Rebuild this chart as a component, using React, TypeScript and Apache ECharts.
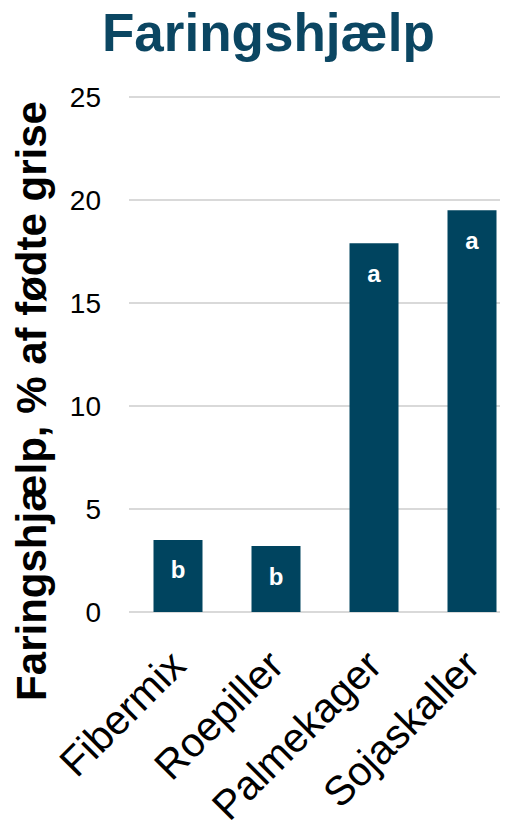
import React, { useEffect, useRef } from "react";
import * as echarts from "echarts";

const categories = ["Fibermix", "Roepiller", "Palmekager", "Sojaskaller"];
const values = [3.5, 3.2, 17.9, 19.5];
const letters = ["b", "b", "a", "a"];
const yTicks = { min: 0, max: 25, interval: 5 };

const FONT = "'Liberation Sans', Arial, sans-serif";
const BAR = "#00445f";

export default function App() {
  const ref = useRef<HTMLDivElement>(null);
  useEffect(() => {
    const chart = echarts.init(ref.current!, null, { renderer: "svg" });
    chart.setOption({
      animation: false,
      textStyle: { fontFamily: FONT },
      title: {
        text: "Faringshjælp",
        left: 97,
        top: 1,
        textStyle: { fontFamily: FONT, fontSize: 53, fontWeight: "bold", color: "#0b4662" },
      },
      grid: { left: 129, width: 392, top: 97, height: 515, outerBoundsMode: "none", containLabel: false },
      xAxis: {
        type: "category",
        data: categories,
        axisTick: { show: false },
        axisLine: { show: false },
        axisLabel: { rotate: 45, fontSize: 41, color: "#000", margin: 46, fontFamily: FONT },
      },
      yAxis: {
        type: "value",
        min: yTicks.min,
        max: yTicks.max,
        interval: yTicks.interval,
        axisLabel: { fontSize: 28, color: "#000", margin: 28, fontFamily: FONT },
        splitLine: { lineStyle: { color: "#d9d9d9", width: 2 } },
      },
      graphic: [
        {
          type: "text",
          x: 31,
          y: 401,
          rotation: Math.PI / 2,
          style: {
            text: "Faringshjælp, % af fødte grise",
            fontFamily: FONT,
            fontSize: 42,
            fontWeight: "bold",
            fill: "#000",
            align: "center",
            verticalAlign: "middle",
          },
        },
      ],
      series: [
        {
          type: "bar",
          data: values,
          barWidth: 49,
          itemStyle: { color: BAR },
          label: {
            show: true,
            position: "insideTop",
            distance: 18,
            formatter: (p: any) => letters[p.dataIndex],
            color: "#fff",
            fontSize: 24,
            fontWeight: "bold",
            fontFamily: FONT,
          },
        },
      ],
    });
    return () => chart.dispose();
  }, []);
  return (
    <div
      ref={ref}
      style={{ position: "absolute", left: 0, top: 0, width: 500, height: 822, overflow: "hidden" }}
    />
  );
}
